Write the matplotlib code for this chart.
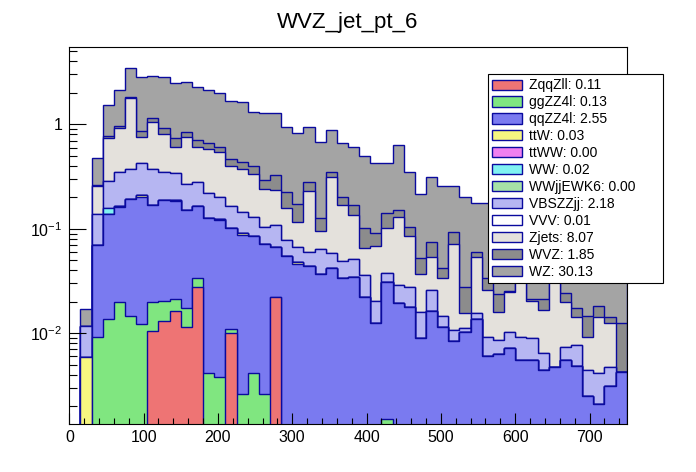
import numpy as np
import matplotlib
matplotlib.use('Agg')
import matplotlib.pyplot as plt
from matplotlib.patches import Patch
from matplotlib.ticker import MultipleLocator, LogLocator, NullFormatter

plt.rcParams['font.family'] = ['Liberation Sans', 'DejaVu Sans']
plt.rcParams['mathtext.fontset'] = 'custom'
plt.rcParams['mathtext.rm'] = 'Liberation Sans'
plt.rcParams['mathtext.default'] = 'regular'

# jet pt bins, 15 GeV wide
edges = np.arange(0, 751, 15)

# per-bin yields (bottom of the stack first)
ZqqZll = [0, 0, 0, 0, 0, 0, 0, 0.0105, 0.0131, 0.0163,
          0.0114, 0.0276, 0, 0, 0.0101, 0, 0, 0, 0.0221, 0,
          0, 0, 0, 0, 0, 0, 0, 0, 0, 0,
          0, 0, 0, 0, 0, 0, 0, 0, 0, 0,
          0, 0, 0, 0, 0, 0, 0, 0, 0, 0]
ggZZ4l = [0, 0, 0.0092, 0.0136, 0.0201, 0.0147, 0.0122, 0.0093, 0.0074, 0.0048,
          0.0062, 0.0065, 0.0042, 0.0038, 0.0010, 0.0026, 0.0042, 0.0026, 0, 0,
          0, 0, 0, 0, 0, 0, 0, 0, 0.0015, 0,
          0, 0, 0, 0, 0, 0, 0, 0, 0, 0,
          0, 0, 0, 0, 0, 0, 0, 0, 0, 0]
qqZZ4l = [0, 0, 0.0608, 0.1249, 0.1426, 0.1768, 0.1906, 0.1480, 0.1681, 0.1634,
          0.1337, 0.1312, 0.1218, 0.1176, 0.0899, 0.0847, 0.0812, 0.0685, 0.0453, 0.0549,
          0.0457, 0.0441, 0.0367, 0.0419, 0.0336, 0.0343, 0.0221, 0.0125, 0.0293, 0.0194,
          0.0180, 0.0090, 0.0165, 0.0116, 0.0084, 0.0104, 0.0136, 0.0061, 0.0064, 0.0072,
          0.0056, 0.0056, 0.0045, 0.0048, 0.0056, 0.0049, 0.0025, 0.0021, 0.0031, 0.0043]
ttW = [0, 0.0059, 0, 0, 0.0040, 0, 0.0064, 0, 0, 0.0040,
       0, 0, 0, 0.0030, 0, 0.0030, 0, 0, 0, 0,
       0.0020, 0, 0, 0, 0, 0, 0, 0, 0, 0,
       0, 0, 0, 0, 0, 0, 0, 0, 0, 0,
       0, 0, 0, 0, 0, 0, 0, 0, 0, 0]
ttWW = [0] * 50
WW = [0, 0, 0, 0.0186, 0, 0, 0, 0, 0, 0,
      0, 0, 0, 0, 0, 0, 0, 0, 0, 0,
      0, 0, 0, 0, 0, 0, 0, 0, 0, 0,
      0, 0, 0, 0, 0, 0, 0, 0, 0, 0,
      0, 0, 0, 0, 0, 0, 0, 0, 0, 0]
WWjjEWK6 = [0] * 50
VBSZZjj = [0, 0.0059, 0.0685, 0.1296, 0.1830, 0.1820, 0.2199, 0.2057, 0.1586, 0.1511,
           0.1154, 0.1134, 0.0926, 0.0757, 0.0641, 0.0555, 0.0435, 0.0337, 0.0414, 0.0232,
           0.0188, 0.0163, 0.0270, 0.0164, 0.0159, 0.0167, 0.0140, 0.0079, 0.0067, 0.0096,
           0.0096, 0.0069, 0.0095, 0.0029, 0.0023, 0.0008, 0.0019, 0.0031, 0.0022, 0.0030,
           0.0036, 0.0034, 0.0020, 0, 0.0018, 0.0028, 0.0020, 0.0021, 0.0017, 0]
VVV = [0, 0, 0, 0, 0, 0.0040, 0, 0, 0.0030, 0,
       0, 0, 0.0030, 0, 0, 0, 0, 0, 0, 0,
       0, 0, 0, 0, 0, 0, 0, 0, 0, 0,
       0, 0, 0, 0, 0, 0, 0, 0, 0, 0,
       0, 0, 0, 0, 0, 0, 0, 0, 0, 0]
Zjets = [0, 0, 0.1183, 0.4607, 0.5822, 1.3959, 0.3318, 0.6716, 0.4520, 0.2709,
         0.4843, 0.3239, 0.3549, 0.3395, 0.2338, 0.2278, 0.2034, 0.1356, 0.1263, 0.0790,
         0.0504, 0.1711, 0.0316, 0.2569, 0.1194, 0.0845, 0.0298, 0.0485, 0.0649, 0.0998,
         0.0583, 0.0208, 0.0281, 0.0192, 0.0603, 0.0046, 0.0378, 0.0168, 0.0075, 0.0146,
         0.0270, 0.0116, 0.0103, 0.0290, 0.0127, 0.0066, 0.0047, 0.0102, 0.0078, 0]
WVZ = [0, 0, 0.0086, 0.0253, 0.0420, 0.0396, 0.1076, 0.0962, 0.1135, 0.1240,
       0.0874, 0.1051, 0.0814, 0.0709, 0.0666, 0.0594, 0.0668, 0.0528, 0.0921, 0.0664,
       0.0546, 0.0508, 0.0307, 0.0320, 0.0339, 0.0334, 0.0352, 0.0217, 0.0382, 0.0225,
       0.0175, 0.0155, 0.0212, 0.0083, 0.0227, 0.0122, 0.0070, 0.0076, 0.0075, 0.0006,
       0.0060, 0.0007, 0.0044, 0.0048, 0.0041, 0.0031, 0.0053, 0.0039, 0.0017, 0.0082]
WZ = [0, 0.0052, 0.2074, 0.7473, 1.1412, 1.6224, 1.9489, 1.7388, 1.9017, 1.7337,
      1.6851, 1.5524, 1.4572, 1.3694, 1.1944, 1.1908, 0.9121, 0.9814, 0.9474, 0.7126,
      0.6488, 0.6538, 0.5466, 0.5290, 0.4551, 0.4336, 0.3961, 0.3330, 0.2829, 0.4782,
      0.2464, 0.1617, 0.2400, 0.2132, 0.1613, 0.1749, 0.1150, 0.1418, 0.1453, 0.1101,
      0.1026, 0.0949, 0.0852, 0.0883, 0.0691, 0.0799, 0.0672, 0.0565, 0.0639, 0.0530]

stack = [ZqqZll, ggZZ4l, qqZZ4l, ttW, ttWW, WW, WWjjEWK6, VBSZZjj, VVV, Zjets, WVZ, WZ]
labels = ['ZqqZll: 0.11', 'ggZZ4l: 0.13', 'qqZZ4l: 2.55', 'ttW: 0.03',
          'ttWW: 0.00', 'WW: 0.02', 'WWjjEWK6: 0.00', 'VBSZZjj: 2.18',
          'VVV: 0.01', 'Zjets: 8.07', 'WVZ: 1.85', 'WZ: 30.13']
# flat colours standing in for ROOT's 50% dot fill patterns
colors = ['#ee7474', '#80e680', '#7a7af0', '#f6f680', '#f080f0', '#80f2f2',
          '#a6e2a6', '#b6b6f2', '#ffffff', '#e4e1dc', '#8c8c8c', '#a4a4a4']
line_col = '#0a0a9e'

fig = plt.figure(figsize=(6.96, 4.72), dpi=100)
ax = fig.add_axes([0.0996, 0.1017, 0.8008, 0.7981])

cum = np.cumsum(np.array(stack, dtype=float), axis=0)
floor = 1e-5
# paint like a THStack: total first, each lower sum on top of it
for k in range(len(stack) - 1, -1, -1):
    top = np.where(cum[k] > 0, cum[k], floor)
    ax.stairs(top, edges, baseline=floor, fill=True,
              facecolor=colors[k], edgecolor=line_col, lw=1.0)

ax.set_yscale('log')
ax.set_xlim(0, 750)
ax.set_ylim(1.355e-3, 5.46)

ax.xaxis.set_major_locator(MultipleLocator(100))
ax.xaxis.set_minor_locator(MultipleLocator(20))
ax.set_yticks([0.01, 0.1, 1])
ax.set_yticklabels(['$10^{-2}$', '$10^{-1}$', '1'])
ax.yaxis.set_minor_locator(LogLocator(base=10, subs=np.arange(2, 10)))
ax.yaxis.set_minor_formatter(NullFormatter())

ax.tick_params(which='both', direction='in', top=False, right=False,
               labelsize=11.5, width=0.8, color='black')
ax.tick_params(axis='x', which='major', length=8.1, pad=4)
ax.tick_params(axis='x', which='minor', length=4.0)
ax.tick_params(axis='y', which='major', length=12.2, pad=5)
ax.tick_params(axis='y', which='minor', length=6.0)
for sp in ax.spines.values():
    sp.set_linewidth(0.8)
    sp.set_zorder(5)

fig.text(0.5, 1 - 28 / 472, 'WVZ_jet_pt_6', ha='center', va='baseline',
         fontsize=16)

handles = [Patch(facecolor=c, edgecolor=line_col, lw=1.0) for c in colors]
x0 = 487.7 / 696
y1 = 1 - 74.3 / 472
leg = ax.legend(handles, labels, loc='upper left',
                bbox_to_anchor=(x0, y1 - 0.44, 175.5 / 696, 0.44),
                bbox_transform=fig.transFigure, mode='expand',
                fancybox=False, frameon=True, framealpha=1, edgecolor='black',
                fontsize=10, handlelength=2.2, handleheight=0.75,
                handletextpad=0.45, labelspacing=0.21, borderpad=0.3,
                borderaxespad=0)
leg.get_frame().set_linewidth(0.8)

fig.savefig('out.png', dpi=100)
